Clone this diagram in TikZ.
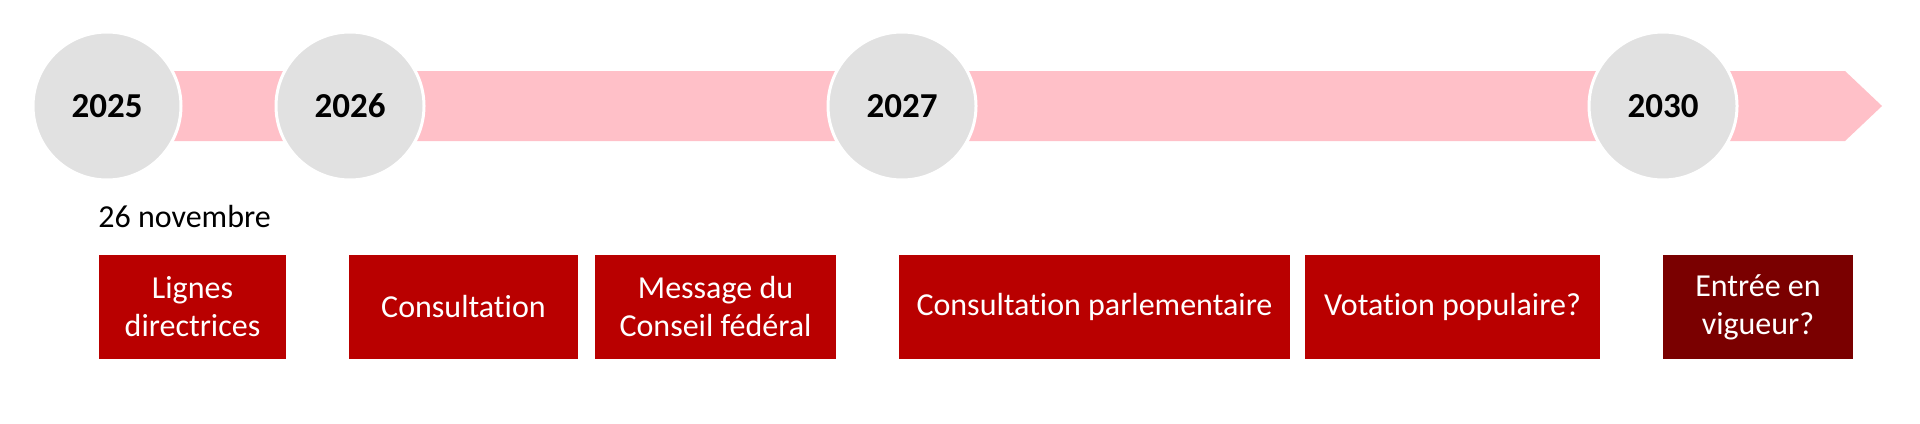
\documentclass[tikz,border=0pt]{standalone}
\usepackage{fontspec}
\setmainfont[Ligatures={NoCommon}]{Carlito}
\usetikzlibrary{calc,positioning}
\definecolor{bandpink}{RGB}{255,192,200}
\definecolor{yeargrey}{RGB}{225,225,225}
\definecolor{stagered}{RGB}{185,0,0}
\definecolor{stagedark}{RGB}{122,0,0}

\begin{document}
\begin{tikzpicture}[x=0.5pt,y=-0.5pt,year/.style={circle,fill=yeargrey,draw=white,line width=1.5pt,minimum size=74pt,inner sep=0pt,font=\fontsize{17.5}{20}\selectfont\bfseries},stage/.style={fill=stagered,text=white,minimum height=52pt,inner sep=2pt,align=center,font=\fontsize{16}{19}\selectfont},band/.style={fill=bandpink}]
  \useasboundingbox (0,0) rectangle (1920,423);
  \fill[band] (107,71) -- (1845,71) -- (1882,106) -- (1845,141) -- (107,141) -- cycle;
  \node[year] (y2025) at (107,106) {2025};
  \node[year] (y2026) at ($ (y2025) + (243,0) $) {2026};
  \node[year] (y2027) at ($ (y2026) + (552,0) $) {2027};
  \node[year] (y2030) at ($ (y2027) + (761,0) $) {2030};
  \node[anchor=base west,inner sep=0pt,font=\fontsize{16}{19}\selectfont] (date) at (98,227) {26 novembre};
  \node[stage,minimum width=93.5pt] (lignes) at (192.5,307) {Lignes\\directrices};
  \node[stage,minimum width=114.5pt] (consult) at (463.5,307) {Consultation};
  \node[stage,minimum width=120.5pt] (message) at (715.5,307) {Message du\\Conseil fédéral};
  \node[stage,minimum width=195.5pt] (parlement) at (1094.5,307) {Consultation parlementaire};
  \node[stage,minimum width=147.5pt] (votation) at (1452.5,307) {Votation populaire?};
  \node[stage,minimum width=95pt,fill=stagedark] (vigueur) at (1758,307) {Entrée en\\vigueur?};
\end{tikzpicture}
\end{document}
